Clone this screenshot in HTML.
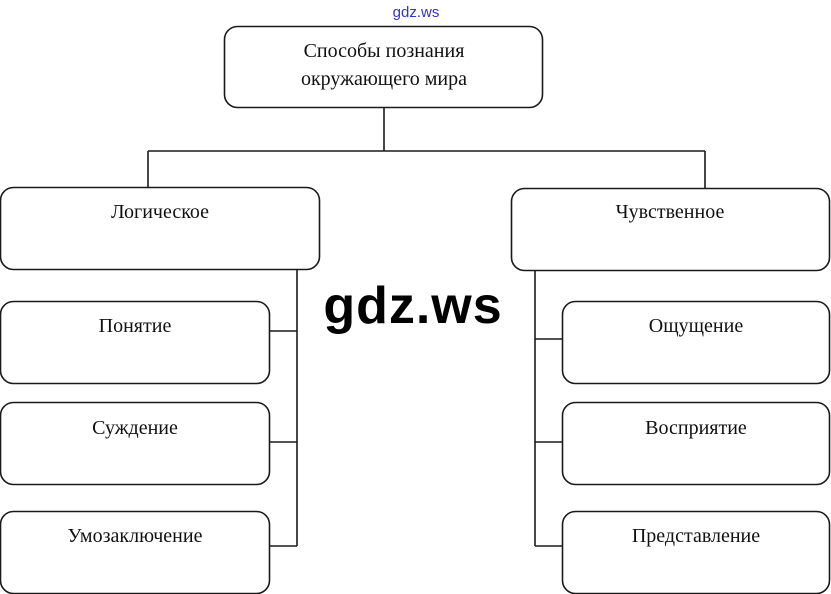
<!DOCTYPE html>
<html><head><meta charset="utf-8"><style>
html,body{margin:0;padding:0;background:#fff;width:831px;height:594px;overflow:hidden}
</style></head><body>
<svg width="831" height="594" viewBox="0 0 831 594" xmlns="http://www.w3.org/2000/svg">
<g fill="none" stroke="#1a1a1a" stroke-width="1.6">
<rect x="224.5" y="26.5" width="318" height="81" rx="13"/>
<rect x="0.5" y="187.5" width="319" height="82" rx="13"/>
<rect x="511.5" y="188.5" width="318" height="82" rx="13"/>
<rect x="0.5" y="301.5" width="269" height="82" rx="13"/>
<rect x="0.5" y="402.5" width="269" height="82" rx="13"/>
<rect x="0.5" y="511.5" width="269" height="82" rx="13"/>
<rect x="562.5" y="301.5" width="267" height="82" rx="13"/>
<rect x="562.5" y="402.5" width="267" height="82" rx="13"/>
<rect x="562.5" y="511.5" width="267" height="82" rx="13"/>
<path d="M384 108V151M148 151H705M148 151V187M705 151V188"/>
<path d="M297 270V546M270 331H297M270 442H297M270 546H297"/>
<path d="M535 271V546M535 339H562M535 442H562M535 546H562"/>
</g>
<g font-family="'Liberation Serif',serif" font-size="20" fill="#111" text-anchor="middle">
<text x="384" y="57">Способы познания</text>
<text x="384" y="85">окружающего мира</text>
<text x="160" y="218">Логическое</text>
<text x="670" y="218">Чувственное</text>
<text x="135" y="332">Понятие</text>
<text x="135" y="434">Суждение</text>
<text x="135" y="542">Умозаключение</text>
<text x="696" y="332">Ощущение</text>
<text x="696" y="434">Восприятие</text>
<text x="696" y="542">Представление</text>
</g>
<text x="416" y="17" font-family="'Liberation Sans',sans-serif" font-size="15" fill="#3333cc" text-anchor="middle">gdz.ws</text>
<text x="413" y="323" font-family="'Liberation Sans',sans-serif" font-size="52" font-weight="bold" letter-spacing="1" fill="#000" text-anchor="middle">gdz.ws</text>
</svg>
</body></html>
